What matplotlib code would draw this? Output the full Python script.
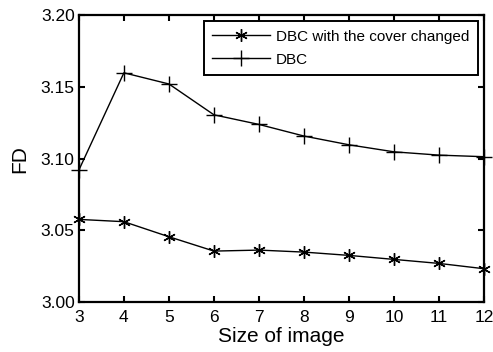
import matplotlib
matplotlib.use("Agg")
from matplotlib import pyplot as plt

sizes = [3, 4, 5, 6, 7, 8, 9, 10, 11, 12]
dbc_cover = [3.0576, 3.0560, 3.0455, 3.0355, 3.0362, 3.0348, 3.0325, 3.0297, 3.0269, 3.0232]
dbc = [3.0920, 3.1598, 3.1520, 3.1305, 3.1238, 3.1157, 3.1096, 3.1047, 3.1024, 3.1013]
yticks = [3.00, 3.05, 3.10, 3.15, 3.20]

plt.rcParams["font.family"] = ["Liberation Sans", "DejaVu Sans"]

fig = plt.figure(figsize=(4.93, 3.52), dpi=100)
ax = fig.add_axes((0.160, 0.142, 0.822, 0.815))

ax.plot(sizes, dbc_cover, color="black", lw=1.0, marker=(6, 2, 0), ms=9, mew=1.0,
        label="DBC with the cover changed", clip_on=False)
ax.plot(sizes, dbc, color="black", lw=1.0, marker="+", ms=11, mew=1.0,
        label="DBC", clip_on=False)

ax.set_xlim(3, 12)
ax.set_ylim(3.00, 3.20)
ax.set_xticks(sizes)
ax.set_yticks(yticks)
ax.set_yticklabels([f"{v:.2f}" for v in yticks])
ax.tick_params(direction="in", top=True, right=True, labelsize=12.5, width=1.5, length=4, pad=3)
ax.tick_params(axis="x", pad=6)
for s in ax.spines.values():
    s.set_linewidth(1.6)

ax.set_xlabel("Size of image", fontsize=15, labelpad=1)
ax.set_ylabel("FD", fontsize=15, labelpad=8)

leg = ax.legend(loc="upper right", fontsize=11, fancybox=False, framealpha=1,
                edgecolor="black", borderaxespad=0.4, handlelength=3.8,
                handletextpad=0.4, labelspacing=0.6, borderpad=0.55)
leg.get_frame().set_linewidth(1.4)

fig.savefig("out.png", dpi=100)
